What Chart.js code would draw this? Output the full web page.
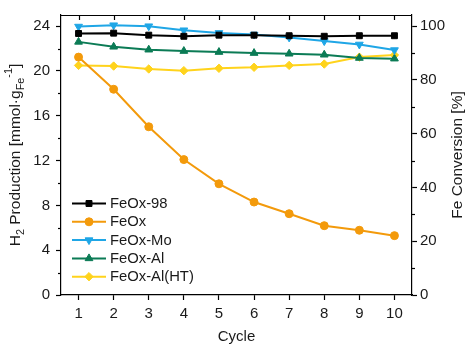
<!DOCTYPE html>
<html>
<head>
<meta charset="utf-8">
<script src="https://cdn.jsdelivr.net/npm/chart.js@4/dist/chart.umd.min.js"></script>
<style>
html,body{margin:0;padding:0;background:#fff;}
#wrap{width:466px;height:346px;position:relative;}
</style>
</head>
<body>
<div id="wrap"><canvas id="c" width="466" height="346"></canvas></div>
<script>
// ---- data ----
const cycles = [1, 2, 3, 4, 5, 6, 7, 8, 9, 10];
const feox98   = [23.35, 23.38, 23.20, 23.10, 23.20, 23.20, 23.15, 23.10, 23.15, 23.15];
const feox     = [21.24, 18.37, 15.02, 12.09, 9.93, 8.30, 7.26, 6.19, 5.78, 5.30];
const feoxMo   = [23.97, 24.09, 24.00, 23.64, 23.40, 23.26, 23.00, 22.67, 22.37, 21.87];
const feoxAl   = [22.60, 22.16, 21.90, 21.78, 21.69, 21.60, 21.54, 21.45, 21.16, 21.10];
const feoxAlHT = [20.50, 20.44, 20.18, 20.03, 20.24, 20.33, 20.50, 20.62, 21.24, 21.42];
const seriesNames = ['FeOx-98', 'FeOx', 'FeOx-Mo', 'FeOx-Al', 'FeOx-Al(HT)'];
const leftTicks  = [0, 4, 8, 12, 16, 20, 24];
const leftMinor  = [2, 6, 10, 14, 18, 22];
const rightTicks = [0, 20, 40, 60, 80, 100];
const rightMinor = [10, 30, 50, 70, 90];
const xTicks = cycles;

const FONT = '"Liberation Sans", Arial, sans-serif';
const TXT = '#1a1a1a';

function pts(arr){ return cycles.map((c,i)=>({x:c, y:arr[i]})); }

const styles = [
  {color:'#000000', pointStyle:'rect', radius:4.2, rotation:0},
  {color:'#F39A0B', pointStyle:'circle', radius:4, rotation:0},
  {color:'#1FA6E6', pointStyle:'triangle', radius:4.5, rotation:180},
  {color:'#0B7B55', pointStyle:'triangle', radius:4.5, rotation:0},
  {color:'#FFD31C', pointStyle:'rectRot', radius:4.2, rotation:0}
];
const allData = [feox98, feox, feoxMo, feoxAl, feoxAlHT];

const datasets = allData.map((d,i)=>({
  label: seriesNames[i],
  data: pts(d),
  borderColor: styles[i].color,
  backgroundColor: styles[i].color,
  pointBackgroundColor: styles[i].color,
  pointBorderColor: styles[i].color,
  pointBorderWidth: 1,
  pointStyle: styles[i].pointStyle,
  pointRadius: styles[i].radius,
  pointRotation: styles[i].rotation,
  borderWidth: 2,
  tension: 0,
  yAxisID: 'y'
}));

function drawRich(ctx, segs, cx, cy, rot, base){
  ctx.save();
  ctx.translate(cx, cy);
  ctx.rotate(rot);
  let total = 0;
  const small = base*0.7;
  segs.forEach(s=>{
    ctx.font = (s.t==='n'? base : small) + 'px ' + FONT;
    s.w = ctx.measureText(s.s).width;
    total += s.w;
  });
  let x = -total/2;
  ctx.textBaseline = 'middle';
  ctx.textAlign = 'left';
  ctx.fillStyle = TXT;
  segs.forEach(s=>{
    ctx.font = (s.t==='n'? base : small) + 'px ' + FONT;
    let dy = 0;
    if (s.t==='sub') dy = base*0.32;
    if (s.t==='sup') dy = -base*0.42;
    ctx.fillText(s.s, x, dy);
    x += s.w;
  });
  ctx.restore();
}

const decor = {
  id:'decor',
  afterDraw(chart){
    const ctx = chart.ctx;
    const a = chart.chartArea;
    const sx = chart.scales.x, sy = chart.scales.y, sy1 = chart.scales.y1;
    ctx.save();
    ctx.strokeStyle = '#000';
    ctx.lineWidth = 1.2;
    ctx.beginPath(); ctx.moveTo(a.left, a.top+0.5); ctx.lineTo(a.right, a.top+0.5); ctx.stroke();
    xTicks.forEach(v=>{
      const px = Math.round(sx.getPixelForValue(v))+0.5;
      ctx.beginPath(); ctx.moveTo(px, a.top); ctx.lineTo(px, a.top+5); ctx.stroke();
    });
    leftMinor.forEach(v=>{
      const py = Math.round(sy.getPixelForValue(v))+0.5;
      ctx.beginPath(); ctx.moveTo(a.left-3, py); ctx.lineTo(a.left, py); ctx.stroke();
    });
    rightMinor.forEach(v=>{
      const py = Math.round(sy1.getPixelForValue(v))+0.5;
      ctx.beginPath(); ctx.moveTo(a.right, py); ctx.lineTo(a.right+3, py); ctx.stroke();
    });
    ctx.restore();

    // legend
    ctx.save();
    chart.data.datasets.forEach((ds,i)=>{
      const y = 203.5 + i*18.3;
      ctx.strokeStyle = ds.borderColor;
      ctx.lineWidth = 2;
      ctx.beginPath(); ctx.moveTo(72, y); ctx.lineTo(106, y); ctx.stroke();
      ctx.fillStyle = ds.borderColor;
      ctx.strokeStyle = ds.borderColor;
      ctx.lineWidth = 1;
      Chart.helpers.drawPoint(ctx, {pointStyle: ds.pointStyle, rotation: ds.pointRotation, radius: ds.pointRadius, borderWidth:1}, 89, y);
      ctx.fillStyle = TXT;
      ctx.font = '14.8px ' + FONT;
      ctx.textBaseline = 'middle';
      ctx.textAlign = 'left';
      ctx.fillText(ds.label, 110, y+0.5);
    });
    ctx.restore();

    // axis titles
    drawRich(ctx, [
      {s:'H', t:'n'}, {s:'2', t:'sub'}, {s:' Production [mmol\u00b7g', t:'n'},
      {s:'Fe', t:'sub'}, {s:'-1', t:'sup'}, {s:']', t:'n'}
    ], 16, 155, -Math.PI/2, 15.5);
    drawRich(ctx, [{s:'Fe Conversion [%]', t:'n'}], 458, 155, -Math.PI/2, 15.5);
    drawRich(ctx, [{s:'Cycle', t:'n'}], 236.5, 337, 0, 15);
  }
};

new Chart(document.getElementById('c'), {
  type: 'line',
  data: { datasets },
  options: {
    responsive: false,
    animation: false,
    devicePixelRatio: 1,
    layout: { padding: { top: 14, left: 0, right: 0, bottom: 0 } },
    plugins: { legend: { display: false }, tooltip: { enabled: false } },
    scales: {
      x: {
        type: 'linear', position: 'bottom', min: 0.5, max: 10.5,
        afterBuildTicks: s => { s.ticks = xTicks.map(v=>({value:v})); },
        afterFit: s => { s.height = 51; },
        grid: { drawOnChartArea: false, drawTicks: true, tickLength: 5, tickColor: '#000', tickWidth: 1.2 },
        border: { display: true, color: '#000', width: 1.2 },
        ticks: { color: TXT, font: { family: FONT, size: 15 }, padding: 5, maxRotation: 0 }
      },
      y: {
        type: 'linear', position: 'left', min: 0, max: 25,
        afterBuildTicks: s => { s.ticks = leftTicks.map(v=>({value:v})); },
        afterFit: s => { s.width = 61; },
        grid: { drawOnChartArea: false, drawTicks: true, tickLength: 5, tickColor: '#000', tickWidth: 1.2 },
        border: { display: true, color: '#000', width: 1.2 },
        ticks: { color: TXT, font: { family: FONT, size: 15 }, padding: 6 }
      },
      y1: {
        type: 'linear', position: 'right', min: 0, max: 104.1667, display: true,
        afterBuildTicks: s => { s.ticks = rightTicks.map(v=>({value:v})); },
        afterFit: s => { s.width = 54; },
        grid: { drawOnChartArea: false, drawTicks: true, tickLength: 5, tickColor: '#000', tickWidth: 1.2 },
        border: { display: true, color: '#000', width: 1.2 },
        ticks: { color: TXT, font: { family: FONT, size: 15 }, padding: 3 }
      }
    }
  },
  plugins: [decor]
});
</script>
</body>
</html>
